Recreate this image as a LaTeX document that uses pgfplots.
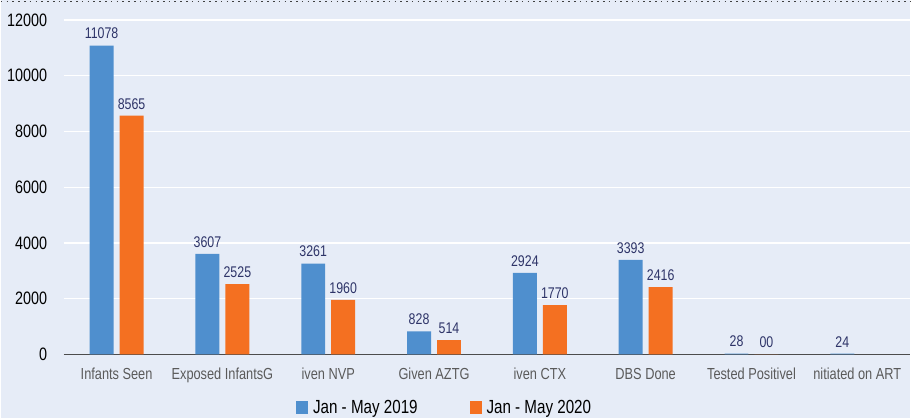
\documentclass[border=0pt]{standalone}
\usepackage{fontspec}
\setmainfont{Liberation Sans}[FakeStretch=0.8]
\usepackage{pgfplots}
\pgfplotsset{compat=1.18}
\definecolor{bg}{HTML}{E6ECF7}
\definecolor{cblue}{HTML}{4F8FCE}
\definecolor{corange}{HTML}{F47021}
\definecolor{lbl}{HTML}{2E3468}
\definecolor{tickc}{HTML}{5A5A5A}
\begin{document}
\begin{tikzpicture}[x=1pt,y=1pt]
\fill[bg] (0,0) rectangle (911,419);
\draw[line width=1.6pt, dash pattern=on 1.6pt off 4.2pt, color=black!75] (0,417.5) -- (911,417.5);
\begin{axis}[
  at={(63pt,64pt)}, anchor=south west,
  scale only axis, width=848pt, height=335pt,
  xmin=-0.5, xmax=7.5, ymin=0, ymax=12000,
  scaled y ticks=false,
  axis x line*=bottom, axis y line*=left,
  x axis line style={draw=black!70, line width=1.5pt, -},
  y axis line style={draw=none},
  major tick length=0pt,
  ytick={0,2000,...,12000},
  ymajorgrids, grid style={white, line width=1.2pt},
  xtick={0,...,7},
  xticklabels={Infants Seen, Exposed InfantsG, iven NVP, Given AZTG, iven CTX, DBS Done, Tested Positivel, nitiated on ART},
  /pgf/number format/.cd, 1000 sep={}, assume math mode=true, /pgfplots/.cd,
  yticklabel style={font=\fontsize{18}{18}\selectfont, color=black, xshift=-13pt},
  xticklabel style={font=\fontsize{16}{16}\selectfont, color=tickc, yshift=-10pt},
  ybar=6pt, bar width=24pt,
  nodes near coords, point meta=explicit symbolic,
  nodes near coords style={font=\fontsize{15.5}{16}\selectfont, color=lbl, yshift=3pt},
  legend style={at={(0.45,-0.16)}, anchor=center, draw=none, fill=none,
    legend columns=2, font=\fontsize{19}{19}\selectfont,
    /tikz/every even column/.append style={column sep=50pt},
    /tikz/every odd column/.append style={column sep=3pt}},
  legend image code/.code={\path[#1, draw=none] (0pt,-6.5pt) rectangle (12pt,6.5pt);},
]
\addplot[fill=cblue, draw=none] coordinates {(0,11078)[11078] (1,3607)[3607] (2,3261)[3261] (3,828)[828] (4,2924)[2924] (5,3393)[3393] (6,28)[28] (7,24)[24]};
\addplot[fill=corange, draw=none] coordinates {(0,8565)[8565] (1,2525)[2525] (2,1960)[1960] (3,514)[514] (4,1770)[1770] (5,2416)[2416] (6,0)[00]};
\legend{Jan - May 2019, Jan - May 2020}
\end{axis}
\end{tikzpicture}
\end{document}
